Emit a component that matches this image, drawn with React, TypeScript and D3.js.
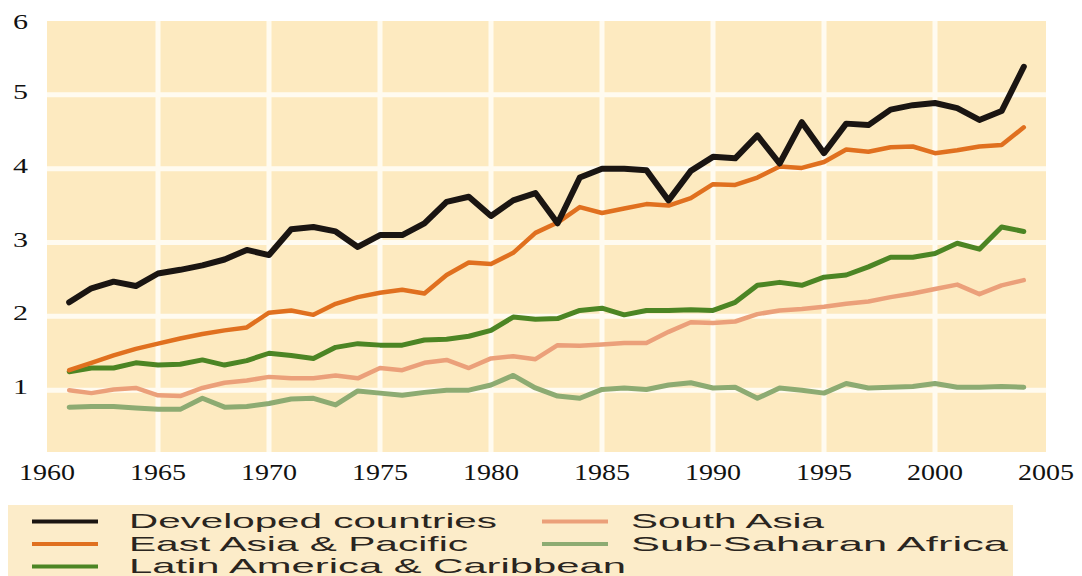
import React from 'react';
import * as d3 from 'd3';

// Years 1961-2004
const years = d3.range(1961, 2005);

const developed = [
  2.19, 2.38, 2.47, 2.41, 2.58, 2.63, 2.69, 2.77, 2.9, 2.83,
  3.18, 3.21, 3.15, 2.94, 3.1, 3.1, 3.26, 3.55, 3.62, 3.36,
  3.57, 3.67, 3.26, 3.88, 4.0, 4.0, 3.98, 3.57, 3.97, 4.16,
  4.14, 4.45, 4.07, 4.63, 4.21, 4.61, 4.59, 4.8, 4.86, 4.89,
  4.82, 4.66, 4.78, 5.38,
];
const eastAsia = [
  1.27, 1.37, 1.47, 1.56, 1.63, 1.7, 1.76, 1.81, 1.85, 2.05,
  2.08, 2.02, 2.17, 2.26, 2.32, 2.36, 2.31, 2.56, 2.73, 2.71,
  2.86, 3.13, 3.27, 3.48, 3.4, 3.46, 3.52, 3.5, 3.6, 3.79,
  3.78, 3.88, 4.03, 4.01, 4.09, 4.26, 4.23, 4.29, 4.3, 4.21,
  4.25, 4.3, 4.32, 4.56,
];
const latinAmerica = [
  1.25, 1.3, 1.3, 1.37, 1.34, 1.35, 1.41, 1.34, 1.4, 1.5,
  1.47, 1.43, 1.58, 1.63, 1.61, 1.61, 1.68, 1.69, 1.73, 1.81,
  1.99, 1.96, 1.97, 2.08, 2.11, 2.02, 2.08, 2.08, 2.09, 2.08,
  2.19, 2.42, 2.46, 2.42, 2.53, 2.56, 2.67, 2.8, 2.8, 2.85,
  2.99, 2.91, 3.21, 3.15,
];
const southAsia = [
  1.0, 0.96, 1.01, 1.03, 0.93, 0.92, 1.03, 1.1, 1.13, 1.18,
  1.16, 1.16, 1.2, 1.16, 1.3, 1.27, 1.37, 1.41, 1.3, 1.43,
  1.46, 1.42, 1.61, 1.6, 1.62, 1.64, 1.64, 1.79, 1.92, 1.91,
  1.93, 2.03, 2.08, 2.1, 2.13, 2.17, 2.2, 2.26, 2.31, 2.37,
  2.43, 2.3, 2.42, 2.49,
];
const subSaharan = [
  0.77, 0.78, 0.78, 0.76, 0.74, 0.74, 0.89, 0.77, 0.78, 0.82,
  0.88, 0.89, 0.8, 0.99, 0.96, 0.93, 0.97, 1.0, 1.0, 1.07,
  1.2, 1.03, 0.92, 0.89, 1.01, 1.03, 1.01, 1.07, 1.1, 1.03,
  1.04, 0.89, 1.03, 1.0, 0.96, 1.09, 1.03, 1.04, 1.05, 1.09,
  1.04, 1.04, 1.05, 1.04,
];

const yTicks = [1, 2, 3, 4, 5, 6];
const xTicks = [1960, 1965, 1970, 1975, 1980, 1985, 1990, 1995, 2000, 2005];

// drawing order: bottom first, developed on top
const series = [
  { name: 'Sub-Saharan Africa', values: subSaharan, color: '#8dab72', width: 5 },
  { name: 'South Asia', values: southAsia, color: '#eba07a', width: 4.5 },
  { name: 'Latin America & Caribbean', values: latinAmerica, color: '#4c8524', width: 5 },
  { name: 'East Asia & Pacific', values: eastAsia, color: '#e0701f', width: 4.5 },
  { name: 'Developed countries', values: developed, color: '#1a1512', width: 6 },
];

// legend layout: [label, color, column, row, text width]
const legendItems: [string, string, number, number, number][] = [
  ['Developed countries', '#1a1512', 0, 0, 368],
  ['East Asia & Pacific', '#e0701f', 0, 1, 339],
  ['Latin America & Caribbean', '#4c8524', 0, 2, 497],
  ['South Asia', '#eba07a', 1, 0, 193],
  ['Sub-Saharan Africa', '#8dab72', 1, 1, 377],
];

const W = 1082;
const H = 576;

const x = d3.scaleLinear().domain([1960, 2005]).range([47, 1046]);
const y = d3.scaleLinear().domain([0, 6]).range([464, 21]);
const plotBottom = 452;

const line = d3
  .line<number>()
  .x((_, i) => x(years[i]))
  .y((d) => y(d));

export default function App() {
  const serif = '"Liberation Serif", "Times New Roman", serif';
  const sans = '"Liberation Sans", Arial, sans-serif';
  return (
    <svg
      width={W}
      height={H}
      style={{ position: 'absolute', left: 0, top: 0, background: '#fff' }}
    >
      {/* plot background */}
      <rect
        x={x(1960)}
        y={y(6)}
        width={x(2005) - x(1960)}
        height={plotBottom - y(6)}
        fill="#fdeac0"
      />
      {/* grid */}
      {yTicks.filter((t) => t < 6).map((t) => (
        <line
          key={'h' + t}
          x1={x(1960)}
          x2={x(2005)}
          y1={y(t)}
          y2={y(t)}
          stroke="#fffbf0"
          strokeWidth={5}
        />
      ))}
      {xTicks.filter((t) => t > 1960 && t < 2005).map((t) => (
        <line
          key={'v' + t}
          x1={x(t)}
          x2={x(t)}
          y1={y(6)}
          y2={plotBottom}
          stroke="#fffbf0"
          strokeWidth={5}
        />
      ))}

      {/* series */}
      {series.map((s) => (
        <path
          key={s.name}
          d={line(s.values) || ''}
          fill="none"
          stroke={s.color}
          strokeWidth={s.width}
          strokeLinejoin="round"
          strokeLinecap="round"
        />
      ))}

      {/* y labels */}
      {yTicks.map((t) => (
        <text
          key={'yl' + t}
          x={13}
          y={y(t) + (t === 6 ? 8 : 4)}
          fontFamily={serif}
          fontSize={21}
          textLength={15}
          lengthAdjust="spacingAndGlyphs"
          fill="#111"
        >
          {t}
        </text>
      ))}

      {/* x labels */}
      {xTicks.map((t) => (
        <text
          key={'xl' + t}
          x={x(t) - 28}
          y={480}
          fontFamily={serif}
          fontSize={24}
          textLength={56}
          lengthAdjust="spacingAndGlyphs"
          fill="#111"
        >
          {t}
        </text>
      ))}

      {/* legend */}
      <rect x={8} y={505} width={1005} height={H - 505} fill="#fcecc9" />
      {legendItems.map(([label, color, col, row, tw]) => {
        const lx = col === 0 ? 32 : 542;
        const tx = col === 0 ? 129 : 631;
        const baseline = 528 + row * 22.5;
        return (
          <g key={label}>
            <line
              x1={lx}
              x2={lx + 66}
              y1={baseline - 6.5}
              y2={baseline - 6.5}
              stroke={color}
              strokeWidth={4}
            />
            <text
              x={tx}
              y={baseline}
              fontFamily={sans}
              fontSize={21}
              textLength={tw}
              lengthAdjust="spacingAndGlyphs"
              fill="#2a2520"
            >
              {label}
            </text>
          </g>
        );
      })}
    </svg>
  );
}
